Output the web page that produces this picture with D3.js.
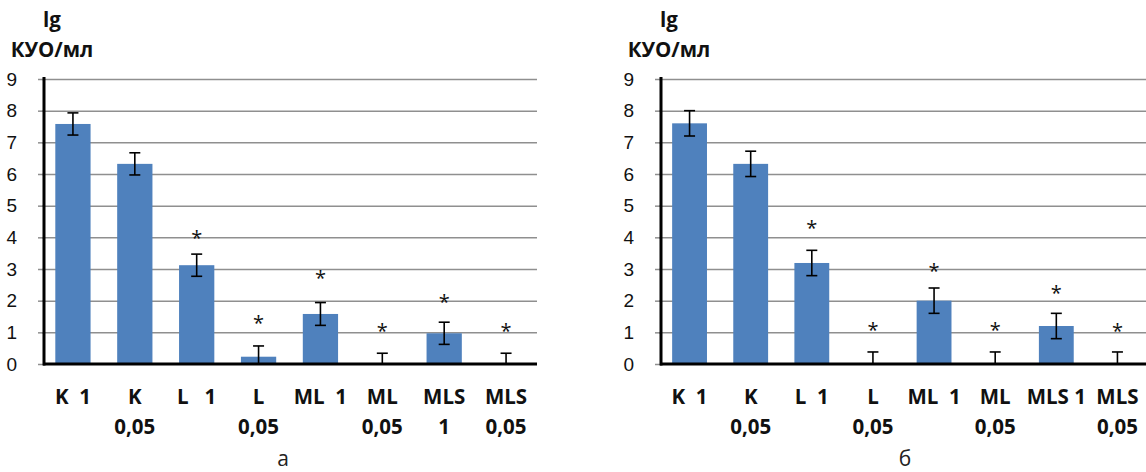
<!DOCTYPE html>
<html><head>
<meta charset="UTF-8">
<title>lg KUO/ml bars</title>
<script src="https://d3js.org/d3.v7.min.js"></script>
<style>
  body { margin: 0; background: #fff; }
  svg { font-family: "Open Sans", sans-serif; }
  .grid line { stroke: #8f8f8f; stroke-width: 1.5px; }
  .grid path { display: none; }
  .yaxis path { display: none; }
  .yaxis line { stroke: #8f8f8f; stroke-width: 1.5px; }
  .yaxis text { font-size: 19px; fill: #111; }
  .xlab { font-size: 20.5px; font-weight: bold; fill: #111; white-space: pre; }
  .bar { fill: #4f81bd; }
  .err { stroke: #000; stroke-width: 1.6px; }
  .star { font-size: 20px; fill: #111; }
</style>
</head>
<body>
<script>

// data
var yTicks = [0, 1, 2, 3, 4, 5, 6, 7, 8, 9];

// chart "а"
var labelsA = [["K  1"], ["K", "0,05"], ["L   1"], ["L", "0,05"], ["ML  1"], ["ML", "0,05"], ["MLS", "1"], ["MLS", "0,05"]];
var valuesA = [7.58, 6.32, 3.12, 0.23, 1.58, 0, 0.97, 0];
var errorsA = [0.35, 0.35, 0.35, 0.34, 0.36, 0.34, 0.35, 0.34];
var starsA  = [null, null, 4.1, 1.41, 2.84, 1.18, 2.07, 1.18];

// chart "б"
var labelsB = [["K  1"], ["K", "0,05"], ["L  1"], ["L", "0,05"], ["ML  1"], ["ML", "0,05"], ["MLS 1"], ["MLS", "0,05"]];
var valuesB = [7.6, 6.32, 3.19, 0, 2.0, 0, 1.2, 0];
var errorsB = [0.4, 0.4, 0.4, 0.38, 0.4, 0.38, 0.4, 0.38];
var starsB  = [null, null, 4.42, 1.21, 3.07, 1.21, 2.36, 1.16];

var W = 1146, H = 472;
var svg = d3.select("body").append("svg")
    .attr("width", W)
    .attr("height", H);

var yScale = d3.scaleLinear().domain([0, 9]).range([364, 79]);

function drawChart(x0, x1, labels, values, errors, stars, caption, capX) {
  var g = svg.append("g");
  var idx = d3.range(values.length);

  var xScale = d3.scaleBand()
      .domain(idx)
      .range([x0, x1])
      .paddingInner(0.43)
      .paddingOuter(0.215);

  // gridlines
  g.append("g")
    .attr("class", "grid")
    .attr("transform", "translate(" + x0 + ",0)")
    .call(d3.axisLeft(yScale).tickValues(yTicks.slice(1)).tickSize(-(x1 - x0)).tickFormat(""));

  // y ticks and labels
  g.append("g")
    .attr("class", "yaxis")
    .attr("transform", "translate(" + (x0 + 1) + ",0)")
    .call(d3.axisLeft(yScale).tickValues(yTicks).tickSize(5).tickPadding(21).tickFormat(d3.format("d")));

  // bars
  g.selectAll("rect.bar").data(idx).enter()
    .append("rect")
    .attr("class", "bar")
    .attr("x", function(i) { return xScale(i); })
    .attr("width", xScale.bandwidth())
    .attr("y", function(i) { return yScale(values[i]); })
    .attr("height", function(i) { return yScale(0) - yScale(values[i]); });

  // error bars (clipped at zero, no lower cap then)
  var cap = 5.5;
  idx.forEach(function(i) {
    var cx = xScale(i) + xScale.bandwidth() / 2;
    var hi = values[i] + errors[i];
    var lo = Math.max(0, values[i] - errors[i]);
    g.append("line").attr("class", "err")
      .attr("x1", cx).attr("x2", cx)
      .attr("y1", yScale(hi)).attr("y2", yScale(lo));
    g.append("line").attr("class", "err")
      .attr("x1", cx - cap).attr("x2", cx + cap)
      .attr("y1", yScale(hi)).attr("y2", yScale(hi));
    if (values[i] - errors[i] > 0) {
      g.append("line").attr("class", "err")
        .attr("x1", cx - cap).attr("x2", cx + cap)
        .attr("y1", yScale(lo)).attr("y2", yScale(lo));
    }
    if (stars[i] != null) {
      g.append("text").attr("class", "star")
        .attr("x", cx)
        .attr("y", yScale(stars[i]) + 11)
        .attr("text-anchor", "middle")
        .text("*");
    }
  });

  // axes lines
  g.append("line")
    .attr("x1", x0 + 2).attr("x2", x0 + 2)
    .attr("y1", yScale(9) - 2).attr("y2", yScale(0) + 1.5)
    .attr("stroke", "#000").attr("stroke-width", 3);
  g.append("line")
    .attr("x1", x0 + 1).attr("x2", x1)
    .attr("y1", yScale(0)).attr("y2", yScale(0))
    .attr("stroke", "#000").attr("stroke-width", 3);

  // category labels
  idx.forEach(function(i) {
    var cx = xScale(i) + xScale.bandwidth() / 2;
    var t = g.append("text").attr("class", "xlab")
      .attr("text-anchor", "middle");
    labels[i].forEach(function(line, k) {
      t.append("tspan")
        .attr("x", cx)
        .attr("y", 404 + k * 30)
        .text(line);
    });
  });

  // y title
  var ty = g.append("text").attr("class", "xlab").attr("text-anchor", "middle");
  ty.append("tspan").attr("x", x0 + 10).attr("y", 27).text("lg");
  ty.append("tspan").attr("x", x0 + 10).attr("y", 57).text("КУО/мл");

  // caption
  g.append("text")
    .attr("x", capX)
    .attr("y", 466)
    .attr("text-anchor", "middle")
    .style("font-size", "21px")
    .style("fill", "#222")
    .text(caption);
}

drawChart(42, 537, labelsA, valuesA, errorsA, starsA, "а", 283);
drawChart(659, 1148, labelsB, valuesB, errorsB, starsB, "б", 905);

</script>
</body>
</html>
